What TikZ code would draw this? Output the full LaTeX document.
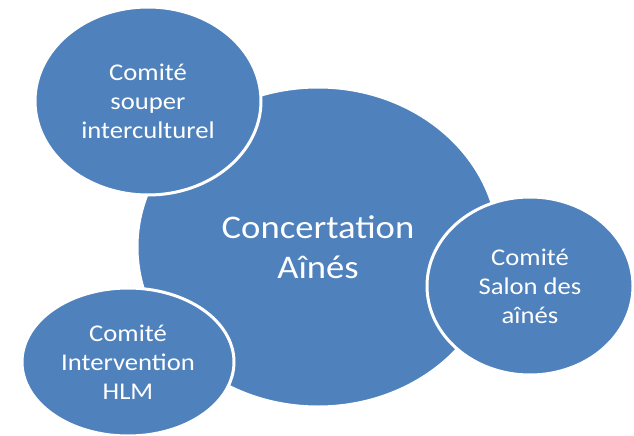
\documentclass[tikz,border=0pt]{standalone}
\usepackage{fontspec}
\setmainfont{Carlito}[FakeStretch=1.11]
\usetikzlibrary{shapes.geometric, positioning}
\definecolor{accent}{HTML}{4F81BD}

\begin{document}
\begin{tikzpicture}[x=1pt, y=-1pt,
  hub/.style={ellipse, fill=accent, draw=white, line width=3pt, text=white,
    inner sep=0pt, align=center, font=\fontsize{33}{40}\selectfont},
  bubble/.style={ellipse, fill=accent, draw=white, line width=3pt, text=white,
    inner sep=0pt, align=center, font=\fontsize{24}{29}\selectfont}]

\useasboundingbox (0,0) rectangle (634,436);

% Central ellipse
\node[hub, minimum width=362pt, minimum height=320pt] (hub) at (318,247) {Concertation\\Aînés};

% Committees around it
\node[bubble, minimum width=226pt, minimum height=188pt] (souper) at (148,101) {Comité\\souper\\interculturel};
\node[bubble, minimum width=206pt, minimum height=178pt] (salon) at (530,286) {Comité\\Salon des\\aînés};
\node[bubble, minimum width=212pt, minimum height=148pt] (hlm) at (128,362) {Comité\\Intervention\\HLM};

\end{tikzpicture}
\end{document}
